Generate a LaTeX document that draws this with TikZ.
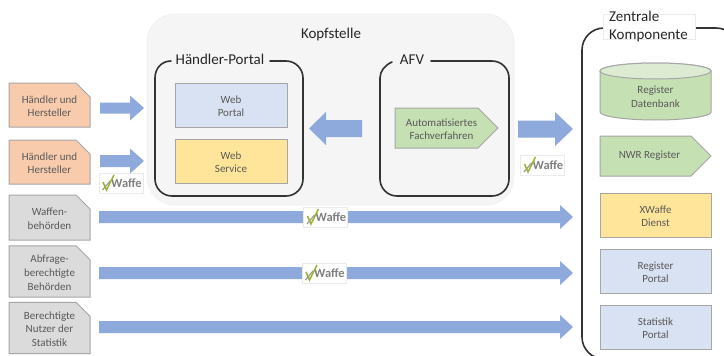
\documentclass[tikz,border=0pt]{standalone}
\usepackage{fontspec}
\setmainfont{Carlito}
\usetikzlibrary{shapes.misc,shapes.symbols}
\definecolor{txtgray}{HTML}{595959}
\definecolor{titleblk}{HTML}{262626}
\definecolor{arrowblue}{HTML}{8EA9DB}
\definecolor{edgegray}{HTML}{A6A6A6}
\definecolor{orangefill}{HTML}{F8CBAD}
\definecolor{grayfill}{HTML}{DBDBDB}
\definecolor{greenfill}{HTML}{C5E0B3}
\definecolor{greenlight}{HTML}{DCEBD2}
\definecolor{bluefill}{HTML}{D9E2F3}
\definecolor{yellowfill}{HTML}{FFE599}
\definecolor{frameblk}{HTML}{333333}
\definecolor{checkgreen}{HTML}{9CAF2E}
\newcommand{\lowerfirst}{\rule{0pt}{10pt}}
\tikzset{
  boxbase/.style={inner sep=0pt,outer sep=0pt,align=center,text=txtgray,font=\fontsize{11}{13.7}\selectfont,draw=edgegray,line width=1pt},
  snipbox/.style={boxbase,chamfered rectangle,chamfered rectangle corners=north east,chamfered rectangle sep=7pt,minimum width=81pt,minimum height=45pt},
  orangebox/.style={snipbox,fill=orangefill},
  graybox/.style={snipbox,fill=grayfill},
  rectbox/.style={boxbase,rectangle,minimum width=112pt,minimum height=44pt},
  pentabox/.style={boxbase,signal,signal to=east,signal from=nowhere,fill=greenfill,minimum height=40pt},
  arrowfill/.style={fill=arrowblue,draw=none},
  frameline/.style={draw=frameblk,line width=1.6pt,line cap=round},
  titletext/.style={text=titleblk,inner sep=0pt,font=\fontsize{15}{18}\selectfont},
  logobox/.style={fill=white,draw=black!8,line width=.4pt,minimum width=44pt,minimum height=20pt,inner sep=0pt,outer sep=0pt,
    font=\bfseries\fontsize{12.5}{12.5}\selectfont,text=black!50},
  x=1pt,y=-1pt
}
% name, tail x, tip x, centre y, shaft half height, head length (negative when pointing left), head half height
\newcommand{\blockarrow}[7]{%
  \coordinate (#1-tail) at (#2,#4);
  \coordinate (#1-tip) at (#3,#4);
  \path[arrowfill] (#2,#4-#5) -- (#3-#6,#4-#5) -- (#3-#6,#4-#7) -- (#3,#4) -- (#3-#6,#4+#7) -- (#3-#6,#4+#5) -- (#2,#4+#5) -- cycle;
}
\newcommand{\xlogo}[2]{%
  \node[logobox,anchor=center] (#1) at #2 {\hspace*{11pt}Waffe};
  \draw[black!40,line width=1.2pt] ([shift={(3.5,-3)}]#1.south west) -- ([shift={(11,-12)}]#1.south west);
  \draw[checkgreen,line width=1.5pt] ([shift={(4,-11)}]#1.south west) -- ([shift={(7.5,-3)}]#1.south west) -- ([shift={(15,-18)}]#1.south west);
}
\begin{document}
\begin{tikzpicture}
\useasboundingbox (0,0) rectangle (724,356);
\fill[white] (0,0) rectangle (724,356);

% Kopfstelle
\path[fill=black!4,draw=black!6,line width=.6pt,rounded corners=28pt] (147,14) rectangle (514,205);
\node[titletext] (kopf) at (331,35) {Kopfstelle};

% Haendler-Portal frame
\node[titletext] (hptitle) at (220,59.5) {Händler-Portal};
\coordinate (hpA) at (171,61);
\coordinate (hpB) at (270,61);
\draw[frameline] (hpA) .. controls (162,61) and (155,68) .. (155,78) [rounded corners=17pt] -- (155,196) -- (303,196) -- (303,61) -- (hpB);
% AFV frame
\node[titletext] (afvtitle) at (412,59.5) {AFV};
\coordinate (afA) at (392,62);
\coordinate (afB) at (431,61);
\draw[frameline] (afA) .. controls (385,65) and (380,71) .. (380,78) [rounded corners=17pt] -- (380,196) -- (509,196) -- (509,61) -- (afB);

% Zentrale Komponente frame
\coordinate (zkA) at (604,28);
\coordinate (zkB) at (695,28);
\draw[frameline,rounded corners=22pt] (zkA) -- (582,28) -- (582,359) -- (738,359) -- (738,28) -- (zkB);
\node[fill=white,draw=black!8,line width=.3pt,minimum width=92pt,minimum height=25pt,inner sep=0pt] (zkbox) at (649,26.5) {};
\node[titletext,align=left,anchor=west] (zktitle) at (609,26.5) {Zentrale\\Komponente};

% Left boxes
\node[orangebox,minimum height=44pt] (h1) at (49.5,105) {\lowerfirst Händler und\\Hersteller};
\node[orangebox,minimum height=44pt] (h2) at (49.5,162) {\lowerfirst Händler und\\Hersteller};
\node[graybox] (w) at (49.5,217.5) {\lowerfirst Waffen-\\behörden};
\node[graybox] (a) at (49.5,271.5) {\lowerfirst Abfrage-\\berechtigte\\Behörden};
\node[graybox,minimum height=46pt] (s) at (49.5,328) {\lowerfirst Berechtigte\\Nutzer der\\Statistik};

% Inner boxes
\node[rectbox,fill=bluefill] (wp) at (231,105) {\lowerfirst Web\\Portal};
\node[rectbox,fill=yellowfill] (ws) at (231,161) {\lowerfirst Web\\Service};
\node[pentabox,anchor=west,minimum width=103pt] (af) at (395,128) {\hspace*{10pt}\lowerfirst Automatisiertes\\\hspace*{10pt}Fachverfahren};

% Right column
\path[draw=edgegray,line width=1pt,fill=greenfill] (600,71) -- (600,112) arc[start angle=180,end angle=0,x radius=55.5,y radius=8] -- (711,71) arc[start angle=0,end angle=-180,x radius=55.5,y radius=8];
\path[draw=edgegray,line width=1pt,fill=greenlight] (655.5,71) ellipse[x radius=55.5,y radius=8];
\node[boxbase,draw=none,fill=none] (db) at (655.5,95.5) {\lowerfirst Register\\Datenbank};
\node[pentabox,anchor=west,minimum width=111pt] (nwr) at (600,156) {\hspace*{8pt}NWR Register};
\node[rectbox,fill=yellowfill,minimum width=111pt] (xd) at (655.5,215) {\lowerfirst XWaffe\\Dienst};
\node[rectbox,fill=bluefill,minimum width=111pt] (rp) at (655.5,271) {\lowerfirst Register\\Portal};
\node[rectbox,fill=bluefill,minimum width=111pt] (sp) at (655.5,327) {\lowerfirst Statistik\\Portal};

% Block arrows
\blockarrow{ar1}{100}{144}{108}{5.5}{14}{12.5}
\blockarrow{ar2}{100}{144}{161}{6}{14}{12.5}
\blockarrow{ar3}{362}{309}{128.5}{8.5}{-17}{16.5}
\blockarrow{ar4}{518}{573}{129}{8.5}{18}{17}
\blockarrow{ar5}{99}{573}{217}{6}{13}{12}
\blockarrow{ar6}{99}{573}{273}{6}{13}{12}
\blockarrow{ar7}{99}{573}{327}{6}{13}{12}

% Logos
\xlogo{lg1}{(121,183)}
\xlogo{lg2}{(542.5,165)}
\xlogo{lg3}{(325.5,217)}
\xlogo{lg4}{(324,273)}
\end{tikzpicture}
\end{document}
